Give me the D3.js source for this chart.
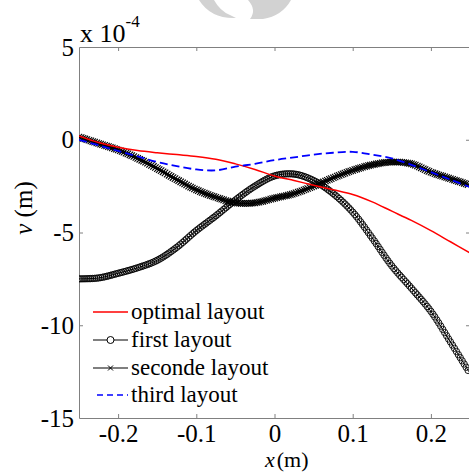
<!DOCTYPE html>
<html>
<head>
<meta charset="utf-8">
<script src="https://cdn.jsdelivr.net/npm/d3@7"></script>
<style>
  body { margin: 0; background: #fff; }
  .axis path, .axis line { stroke: #808080; stroke-width: 1; }
</style>
</head>
<body>
<div id="chart"></div>
<script>
// x positions (m) and displacement v (units of 1e-4 m)
const xVals = [-0.25, -0.225, -0.2, -0.175, -0.15, -0.125, -0.1, -0.075, -0.05, -0.025, 0,
               0.025, 0.05, 0.075, 0.1, 0.125, 0.15, 0.175, 0.2, 0.225, 0.25];
const optimalLayout = [0.2, -0.15, -0.4, -0.58, -0.7, -0.8, -0.9, -1.05, -1.3, -1.6, -1.95,
                       -2.2, -2.45, -2.7, -2.95, -3.35, -3.85, -4.35, -4.9, -5.5, -6.1];
const firstLayout = [-7.5, -7.45, -7.2, -6.9, -6.5, -5.8, -4.9, -4.1, -3.25, -2.5, -1.95,
                     -1.85, -2.2, -2.9, -3.9, -5.3, -6.8, -8.0, -9.25, -10.9, -12.6];
const secondeLayout = [0.15, -0.2, -0.55, -1.0, -1.55, -2.15, -2.7, -3.1, -3.4, -3.4, -3.15,
                       -2.9, -2.5, -2.05, -1.65, -1.35, -1.2, -1.3, -1.75, -2.1, -2.45];
const thirdLayout = [0, -0.3, -0.6, -0.9, -1.2, -1.42, -1.6, -1.65, -1.45, -1.3, -1.1,
                     -0.95, -0.8, -0.7, -0.65, -0.8, -1.0, -1.35, -1.75, -2.15, -2.55];

const xTicks = [-0.2, -0.1, 0, 0.1, 0.2];
const yTicks = [5, 0, -5, -10, -15];
const legendNames = ["optimal layout", "first layout", "seconde layout", "third layout"];

const width = 469, height = 472;
const margin = { top: 47, left: 79, right: 470, bottom: 418 };
const serif = "Liberation Serif";

let svg = d3.select("#chart").append("svg")
    .attr("width", width)
    .attr("height", height)
    .attr("font-family", serif);

svg.append("rect").attr("width", width).attr("height", height).attr("fill", "#fff");

// faint grey mark at the top (from the source image)
svg.append("path")
    .attr("d", "M199,0 L214,0 Q220,11 230,15 L236,18 Q211,19 199,0 Z")
    .attr("fill", "#d2d2d2");
svg.append("path")
    .attr("d", "M248,0 L291,0 Q282,16 263,19 L250,19 Q257,10 248,0 Z")
    .attr("fill", "#d2d2d2");

let xScale = d3.scaleLinear().domain([-0.25, 0.25]).range([margin.left, margin.right]);
let yScale = d3.scaleLinear().domain([5, -15]).range([margin.top, margin.bottom]);

// axes, ticks pointing inward
svg.append("g").attr("class", "axis")
    .attr("transform", "translate(0," + margin.bottom + ")")
    .call(d3.axisBottom(xScale).tickValues(xTicks).tickSizeInner(-4).tickSizeOuter(0).tickPadding(6)
        .tickFormat(d => String(d)));
svg.append("g").attr("class", "axis")
    .attr("transform", "translate(0," + margin.top + ")")
    .call(d3.axisTop(xScale).tickValues(xTicks).tickSizeInner(-4).tickSizeOuter(0).tickFormat(""));
svg.append("g").attr("class", "axis")
    .attr("transform", "translate(" + margin.left + ",0)")
    .call(d3.axisLeft(yScale).tickValues(yTicks).tickSizeInner(-4).tickSizeOuter(0).tickPadding(5)
        .tickFormat(d => String(d)));
svg.append("g").attr("class", "axis")
    .attr("transform", "translate(" + margin.right + ",0)")
    .call(d3.axisRight(yScale).tickValues(yTicks).tickSizeInner(-4).tickSizeOuter(0).tickFormat(""));

svg.selectAll(".axis").attr("font-family", serif).attr("font-size", 25);
svg.selectAll(".axis text").attr("fill", "#000");

// remove the tick marks at the corners
svg.selectAll(".axis .tick").filter(d => d === 5 || d === -15).select("line").remove();

// exponent label
let expo = svg.append("text").attr("x", 80).attr("y", 42)
    .attr("font-family", serif).attr("font-size", 26);
expo.append("tspan").text("x 10");
expo.append("tspan").attr("dy", -15).attr("font-size", 17).text("-4");

// axis titles
let xl = svg.append("text").attr("x", 265).attr("y", 467.2)
    .attr("font-family", serif).attr("font-size", 22);
xl.append("tspan").attr("font-style", "italic").text("x");
xl.append("tspan").attr("dx", 2).text("(m)");

let yl = svg.append("text")
    .attr("transform", "translate(32,208) rotate(-90)")
    .attr("text-anchor", "middle")
    .attr("font-family", serif).attr("font-size", 25);
yl.append("tspan").attr("font-style", "italic").text("v");
yl.append("tspan").text(" (m)");

let lineGen = d3.line()
    .x(d => xScale(d[0]))
    .y(d => yScale(d[1]))
    .curve(d3.curveCatmullRom.alpha(0.5));

const zip = vals => xVals.map((x, i) => [x, vals[i]]);

svg.append("clipPath").attr("id", "plot-clip")
    .append("rect").attr("x", margin.left).attr("y", margin.top - 4)
    .attr("width", margin.right - margin.left).attr("height", margin.bottom - margin.top + 4);

let plot = svg.append("g").attr("clip-path", "url(#plot-clip)");

// markers placed along a drawn path, evenly spaced in x like the original samples
function markerPoints(pathNode, stepData) {
    let len = pathNode.getTotalLength();
    let pts = [];
    let step = xScale(stepData) - xScale(0);
    let nextX = xScale(-0.25);
    for (let l = 0; l <= len; l += 0.25) {
        let p = pathNode.getPointAtLength(l);
        if (p.x >= nextX - 0.01) {
            pts.push([p.x, p.y]);
            nextX += step;
        }
    }
    return pts;
}

function crossD(s) {
    return "M" + (-s) + "," + (-s) + "L" + s + "," + s + "M" + (-s) + "," + s + "L" + s + "," + (-s);
}

// first layout: circles
let firstLine = plot.append("path")
    .attr("d", lineGen(zip(firstLayout)))
    .attr("fill", "none").attr("stroke", "#000").attr("stroke-width", 1);
plot.append("g").selectAll("circle")
    .data(markerPoints(firstLine.node(), 0.0025))
    .join("circle")
    .attr("cx", d => d[0]).attr("cy", d => d[1]).attr("r", 3.2)
    .attr("fill", "none").attr("stroke", "#000").attr("stroke-width", 0.9);

// seconde layout: crosses
let secondLine = plot.append("path")
    .attr("d", lineGen(zip(secondeLayout)))
    .attr("fill", "none").attr("stroke", "#000").attr("stroke-width", 1.2);
plot.append("g").selectAll("path")
    .data(markerPoints(secondLine.node(), 0.0025))
    .join("path")
    .attr("transform", d => "translate(" + d[0] + "," + d[1] + ")")
    .attr("d", crossD(3.2))
    .attr("stroke", "#000").attr("stroke-width", 1.1);

// optimal layout: red line
plot.append("path")
    .attr("d", lineGen(zip(optimalLayout)))
    .attr("fill", "none").attr("stroke", "#ff0000").attr("stroke-width", 1.5);

// third layout: blue dashed
plot.append("path")
    .attr("d", lineGen(zip(thirdLayout)))
    .attr("fill", "none").attr("stroke", "#0000ff").attr("stroke-width", 1.8)
    .attr("stroke-dasharray", "8,4");

// legend
const legendRows = [312, 340, 368, 395];
let legend = svg.append("g");
legendNames.forEach((name, i) => {
    let y = legendRows[i];
    let g = legend.append("g");
    if (i === 0) {
        g.append("line").attr("x1", 93).attr("x2", 128).attr("y1", y).attr("y2", y)
            .attr("stroke", "#ff0000").attr("stroke-width", 1.5);
    } else if (i === 3) {
        g.append("line").attr("x1", 97).attr("x2", 128).attr("y1", y).attr("y2", y)
            .attr("stroke", "#0000ff").attr("stroke-width", 1.5).attr("stroke-dasharray", "6,4");
    } else {
        g.append("line").attr("x1", 93).attr("x2", 128).attr("y1", y).attr("y2", y)
            .attr("stroke", "#000").attr("stroke-width", 1.2);
        if (i === 1) {
            g.append("circle").attr("cx", 110.5).attr("cy", y).attr("r", 3.5)
                .attr("fill", "#fff").attr("stroke", "#000").attr("stroke-width", 1);
        } else {
            g.append("path").attr("transform", "translate(110.5," + y + ")")
                .attr("d", crossD(2.5)).attr("stroke", "#000").attr("stroke-width", 1);
        }
    }
    g.append("text").attr("x", 131).attr("y", y + 7)
        .attr("font-family", serif).attr("font-size", 23).text(name);
});
</script>
</body>
</html>
